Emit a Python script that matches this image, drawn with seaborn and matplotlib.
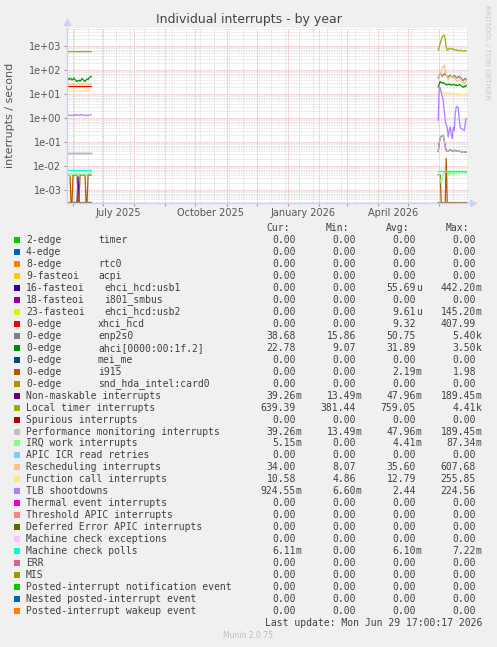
import re
import numpy as np
import pandas as pd
import matplotlib
matplotlib.use("Agg")
import matplotlib.pyplot as plt
import matplotlib.dates as mdates
from matplotlib.patches import Rectangle
from matplotlib.ticker import LogLocator, FuncFormatter, NullFormatter
from matplotlib.transforms import blended_transform_factory
import seaborn as sns

W, H = 497, 647

# ---- legend table ----
labels = [
    "2-edge      timer", "4-edge", "8-edge      rtc0", "9-fasteoi   acpi",
    "16-fasteoi   ehci_hcd:usb1", "18-fasteoi   i801_smbus", "23-fasteoi   ehci_hcd:usb2",
    "0-edge      xhci_hcd", "0-edge      enp2s0", "0-edge      ahci[0000:00:1f.2]",
    "0-edge      mei_me", "0-edge      i915", "0-edge      snd_hda_intel:card0",
    "Non-maskable interrupts", "Local timer interrupts", "Spurious interrupts",
    "Performance monitoring interrupts", "IRQ work interrupts", "APIC ICR read retries",
    "Rescheduling interrupts", "Function call interrupts", "TLB shootdowns",
    "Thermal event interrupts", "Threshold APIC interrupts", "Deferred Error APIC interrupts",
    "Machine check exceptions", "Machine check polls", "ERR", "MIS",
    "Posted-interrupt notification event", "Nested posted-interrupt event",
    "Posted-interrupt wakeup event",
]
colors = [
    "#00CC00", "#0066B3", "#FF8000", "#FFCC00", "#330099", "#990099", "#CCFF00",
    "#FF0000", "#808080", "#008F00", "#00487D", "#B35A00", "#B38F00", "#6B006B",
    "#8FB300", "#B30000", "#BEBEBE", "#80FF80", "#80C9FF", "#FFC080", "#FFE680",
    "#AA80FF", "#EE00CC", "#FF8080", "#666600", "#FFBFFF", "#00FFCC", "#CC6699",
    "#999900", "#00CC00", "#0066B3", "#FF8000",
]
z = "0.00"
cur = [z, z, z, z, z, z, z, z, "38.68", "22.78", z, z, z, "39.26m", "639.39", z,
       "39.26m", "5.15m", z, "34.00", "10.58", "924.55m", z, z, z, z, "6.11m", z, z, z, z, z]
mins = [z, z, z, z, z, z, z, z, "15.86", "9.07", z, z, z, "13.49m", "381.44", z,
        "13.49m", z, z, "8.07", "4.86", "6.60m", z, z, z, z, z, z, z, z, z, z]
avgs = [z, z, z, z, "55.69u", z, "9.61u", "9.32", "50.75", "31.89", z, "2.19m", z, "47.96m",
        "759.05", z, "47.96m", "4.41m", z, "35.60", "12.79", "2.44", z, z, z, z, "6.10m",
        z, z, z, z, z]
maxs = [z, z, z, z, "442.20m", z, "145.20m", "407.99", "5.40k", "3.50k", z, "1.98", z,
        "189.45m", "4.41k", z, "189.45m", "87.34m", z, "607.68", "255.85", "224.56", z, z,
        z, z, "7.22m", z, z, z, z, z]

# ---- time series (daily samples, two stretches with data) ----
left_start, left_len = "2025-05-26", 25
right_start, right_len = "2026-05-31", 29

local_left = [585, 580, 585, 582, 580, 585, 583, 580, 582, 585, 570, 565, 578, 582, 580,
              585, 583, 580, 582, 585, 580, 583, 585, 580, 585]
local_right = [680, 900, 1300, 1780, 2300, 2700, 2870, 2000, 900, 680, 700, 780, 800, 760,
               720, 750, 700, 680, 700, 660, 650, 640, 660, 640, 630, 620, 640, 610, 620]
ahci_left = [42, 44, 40, 45, 43, 38, 41, 46, 40, 36, 33, 35, 38, 34, 38, 44, 40, 35, 33, 38,
             42, 40, 47, 50, 55]
ahci_right = [20, 26, 33, 30, 28, 30, 28, 26, 24, 25, 24, 26, 25, 23, 24, 25, 24, 23, 24, 22,
              23, 25, 24, 22, 20, 19, 21, 20, 23]
xhci_left = [20.5] * 25
enp_right = [45, 60, 75, 65, 55, 60, 70, 65, 60, 55, 50, 58, 62, 55, 48, 52, 60, 56, 48, 46,
             52, 55, 50, 45, 40, 35, 42, 45, 39]
resched_left = [26, 26, 25.5, 26, 26, 26.5, 26, 26, 25.5, 26, 26, 26, 26.5, 26, 26, 25.5, 26,
                26, 26, 26.5, 26, 26, 25.5, 26, 26]
resched_right = [60, 50, 70, 90, 117, 140, 160, 90, 62, 50, 38, 45, 55, 53, 48, 45, 50, 45,
                 38, 33, 36, 42, 45, 38, 30, 28, 24, 30, 34]
func_left = [13.5, 13.4, 13.5, 13.6, 13.5, 13.4, 13.5, 13.5, 13.6, 13.5, 13.4, 13.5, 13.5,
             13.6, 13.5, 13.4, 13.5, 13.5, 13.6, 13.5, 13.4, 13.5, 13.5, 13.6, 13.5]
func_right = [12, 11, 12, 13, 12, 11, 12, 11, 10, 11, 12, 11, 10, 11, 10, 11, 10, 9.5, 10,
              10.5, 9.5, 9, 9.5, 10, 9.5, 9, 9.5, 10, 10.5]
tlb_left = [1.3, 1.3, 1.32, 1.3, 1.3, 1.28, 1.3, 1.3, 1.35, 1.4, 1.3, 1.28, 1.3, 1.32, 1.4,
            1.35, 1.3, 1.3, 1.28, 1.3, 1.3, 1.32, 1.3, 1.35, 1.38]
tlb_right = [0.8, 20, 18, 12, 8, 5.6, 2, 0.8, 0.5, 0.42, 0.16, 0.3, 0.42, 0.2, 0.14, 0.4, 0.3,
             1.5, 2.9, 3.0, 2.6, 0.8, 0.42, 0.35, 0.35, 0.32, 0.3, 0.6, 0.95]
nmi_left = [0.036] * 25
nmi_right = [0.04, 0.09, 0.14, 0.17, 0.18, 0.19, 0.12, 0.065, 0.045, 0.04, 0.042, 0.045,
             0.047, 0.044, 0.042, 0.04, 0.043, 0.045, 0.042, 0.041, 0.04, 0.042, 0.04, 0.039,
             0.038, 0.04, 0.039, 0.038, 0.039]
mcp_left = [0.0065] * 25
mcp_right = [0.0062] * 29
irq_left = [0.0045, 0.0045, 0.0044, 0.0038, 0.0045, 0.0046, 0.0045, 0.0044, 0.0046, 0.0045,
            0.0045, 0.0039, 0.0045, 0.0046, 0.0045, 0.0044, 0.0045, 0.0046, 0.0045, 0.004,
            0.0045, 0.0046, 0.0048, 0.0052, 0.0058]
irq_right = [0.0042, 0.0042, 0.0025, 0.0019, 0.0035, 0.0045, 0.005, 0.0055, 0.0058, 0.006,
             0.0042, 0.006, 0.0045, 0.006, 0.0058, 0.0043, 0.006, 0.0058, 0.0045, 0.006,
             0.0059, 0.0046, 0.006, 0.0058, 0.0048, 0.006, 0.0055, 0.005, 0.0052]
i915_left = [0.0042, 0.0042, 0.0042, 0.0042, 0, 0, 0.0042, 0.0042, 0.0042, 0.0042, 0.0042,
             0, 0, 0.0042, 0.0042, 0.0042, 0.0042, 0.0042, 0.0042, 0, 0, 0.0042, 0.0042,
             0.0042, 0.0042]
i915_right = [0.0042, 0.0042, 0.0042, 0, 0, 0, 0, 0, 0.021, 0, 0, 0, 0, 0, 0, 0, 0, 0, 0,
              0, 0, 0, 0, 0, 0, 0, 0, 0, 0]
usb1_left = [0, 0, 0, 0, 0, 0, 0, 0, 0, 0, 0, 0.0035, 0, 0, 0, 0, 0, 0, 0, 0, 0, 0, 0, 0, 0]

series_left = {4: usb1_left, 7: xhci_left, 9: ahci_left, 11: i915_left, 13: nmi_left,
               14: local_left, 16: nmi_left, 17: irq_left, 19: resched_left,
               20: func_left, 21: tlb_left, 26: mcp_left}
series_right = {8: enp_right, 9: ahci_right, 11: i915_right, 13: nmi_right,
                14: local_right, 16: nmi_right, 17: irq_right, 19: resched_right,
                20: func_right, 21: tlb_right, 26: mcp_right}

YMIN, YMAX = 10 ** -3.545, 10 ** 3.75
FLOOR = 10 ** -3.525   # zero values sit on the bottom edge of the log axis

rows = []
for seg, (start, n, table) in enumerate([(left_start, left_len, series_left),
                                         (right_start, right_len, series_right)]):
    t = pd.date_range(start, periods=n, freq="D")
    for i, lab in enumerate(labels):
        vals = np.asarray(table.get(i, [0.0] * n), dtype=float)
        rows.append(pd.DataFrame({"time": t, "value": np.maximum(vals, FLOOR),
                                  "series": lab, "segment": seg}))
df = pd.concat(rows, ignore_index=True)

# ---- figure ----
fig = plt.figure(figsize=(W / 100, H / 100), dpi=100, facecolor="#f0f0f0")
ax = fig.add_axes([67 / W, 1 - 203 / H, 401 / W, 175 / H])
ax.set_facecolor("white")

palette = dict(zip(labels, colors))
sns.lineplot(data=df, x="time", y="value", hue="series", units="segment",
             estimator=None, hue_order=labels, palette=palette, legend=False,
             linewidth=0.9, ax=ax)

ax.set_yscale("log")
ax.set_ylim(YMIN, YMAX)
ax.set_xlim(pd.Timestamp("2025-05-26"), pd.Timestamp("2026-06-29 17:00"))
ax.set_xlabel("")
ax.set_ylabel("")

ax.xaxis.set_major_locator(mdates.MonthLocator())
ax.xaxis.set_major_formatter(NullFormatter())
ax.xaxis.set_minor_locator(mdates.WeekdayLocator(byweekday=mdates.MO, interval=2))
ax.yaxis.set_major_locator(LogLocator(base=10, numticks=20))
ax.yaxis.set_minor_locator(LogLocator(base=10, subs=np.arange(2, 10), numticks=20))
ax.yaxis.set_major_formatter(FuncFormatter(lambda v, _: f"{v:.0e}"))
ax.yaxis.set_minor_formatter(NullFormatter())

ax.grid(which="major", color="#eba5a5", linestyle=(0, (1, 1)), linewidth=0.6)
ax.grid(which="minor", color="#d6d6d6", linestyle=(0, (1, 1)), linewidth=0.6)
ax.set_axisbelow(True)
ax.tick_params(axis="both", which="major", length=2, color="#a0a0a0",
               labelsize=7, labelcolor="#555555", pad=2)
ax.tick_params(axis="both", which="minor", length=0)

for s in ["top", "right"]:
    ax.spines[s].set_visible(False)
for s in ["left", "bottom"]:
    ax.spines[s].set_color("#c8d0ff")
    ax.spines[s].set_linewidth(1)
ax.plot([0], [1.035], marker="^", ms=4, color="#c8d0ff", transform=ax.transAxes, clip_on=False)
ax.plot([1.012], [0], marker=">", ms=4, color="#c8d0ff", transform=ax.transAxes, clip_on=False)

lab_tr = blended_transform_factory(ax.transData, ax.transAxes)
for d, txt in [("2025-07-16", "July 2025"), ("2025-10-16", "October 2025"),
               ("2026-01-16", "January 2026"), ("2026-04-16", "April 2026")]:
    ax.text(mdates.date2num(pd.Timestamp(d)), -10 / 175, txt, transform=lab_tr,
            ha="center", va="center", fontsize=7, color="#555555")

fig.text(0.5, 1 - 19 / H, "Individual interrupts - by year", ha="center", va="center",
         fontsize=9, color="#444444")
fig.text(10 / W, 1 - 115 / H, "interrupts / second", rotation=90, ha="center",
         va="center", fontsize=8, color="#555555")
fig.text(487 / W, 1 - 52 / H, "RRDTOOL / TOBI OETIKER", rotation=270, ha="center",
         va="center", fontsize=5.3, color="#c8c8c8")
fig.text(248 / W, 1 - 636 / H, "Munin 2.0.75", ha="center", va="center", fontsize=5.5,
         color="#bdbdbd")

# ---- legend table (monospace grid, 6 px per character column) ----
mono = dict(family="DejaVu Sans Mono", fontsize=7.0, color="#404040")


def col(c):
    return (26 + 6 * c) / W


for c, word in zip([40, 50, 60, 70], ["Cur:", "Min:", "Avg:", "Max:"]):
    fig.text(col(c), 1 - 228 / H, word, ha="left", va="center", **mono)

for i, lab in enumerate(labels):
    y = 1 - (240 + i * 11.97) / H
    fig.add_artist(Rectangle((14 / W, y - 3 / H), 6 / W, 6 / H,
                             transform=fig.transFigure, facecolor=colors[i],
                             edgecolor="none"))
    # irq number at column 0, device name (after the wide gap) at its own column
    parts = re.split(r"\s{3,}", lab)
    fig.text(col(0), y, parts[0], ha="left", va="center", **mono)
    if len(parts) > 1:
        fig.text(col(lab.rindex(parts[1])), y, parts[1], ha="left", va="center", **mono)
    # numbers right-aligned at columns 45/55/65/75, unit suffix just after
    for c, v in zip([45, 55, 65, 75], [cur[i], mins[i], avgs[i], maxs[i]]):
        num, suf = (v[:-1], v[-1]) if v[-1].isalpha() else (v, "")
        fig.text(col(c), y, num, ha="right", va="center", **mono)
        if suf:
            fig.text(col(c), y, suf, ha="left", va="center", **mono)

fig.text(col(76), 1 - 623 / H, "Last update: Mon Jun 29 17:00:17 2026",
         ha="right", va="center", **mono)

fig.savefig("out.png", dpi=100, facecolor=fig.get_facecolor())
